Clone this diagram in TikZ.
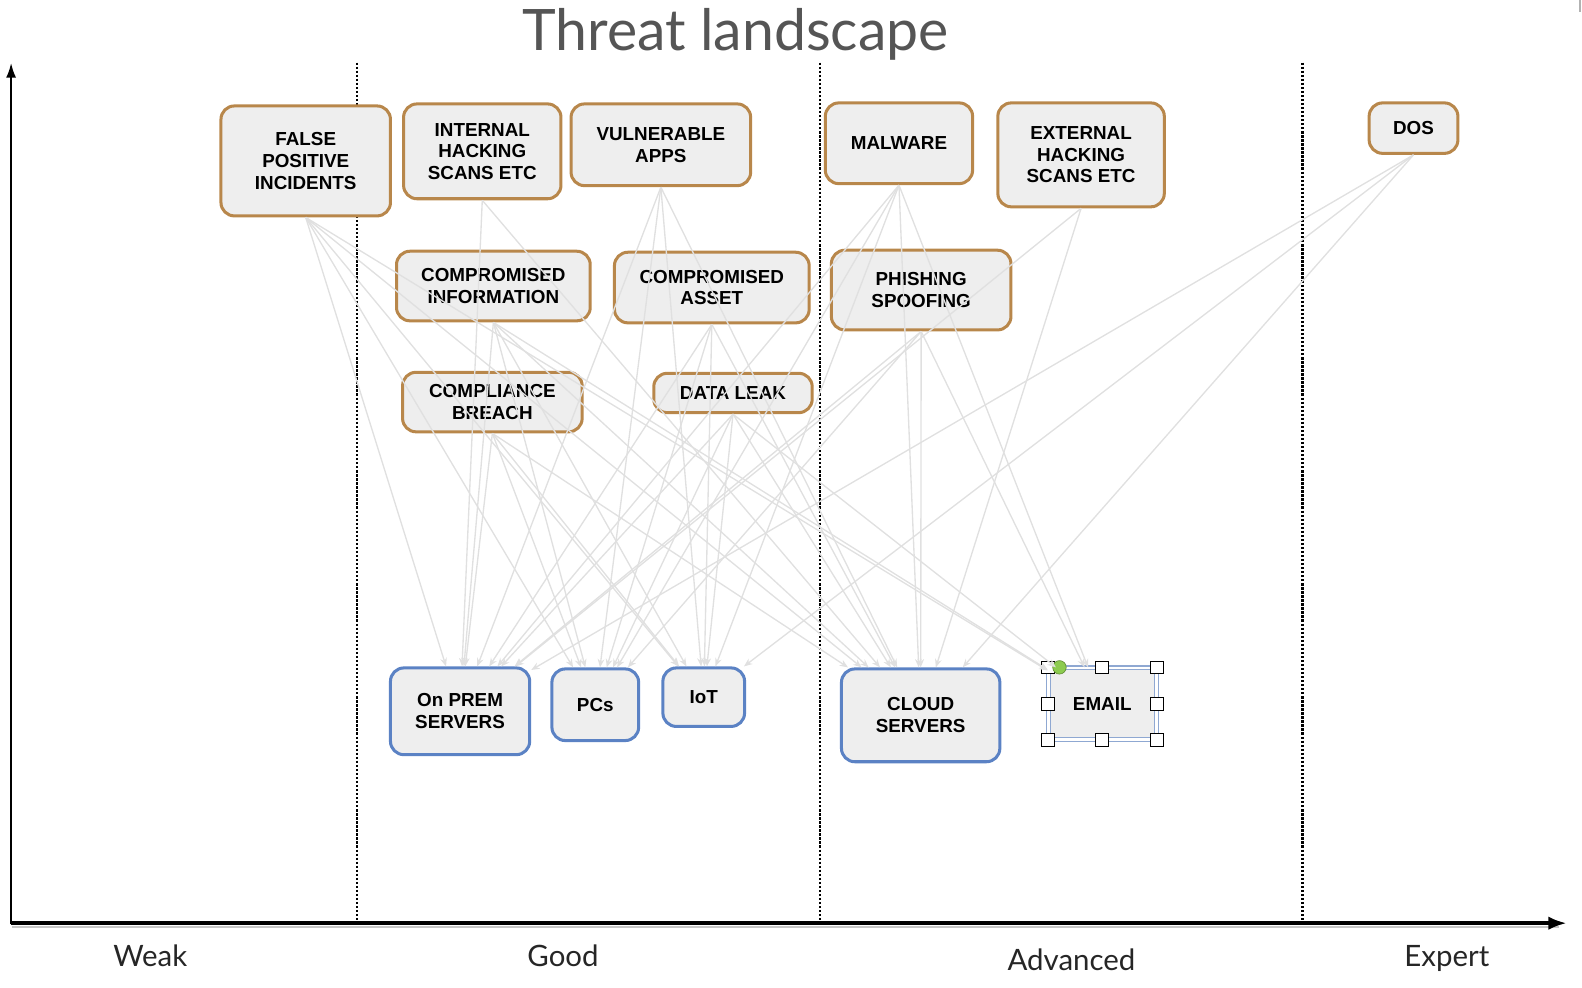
\documentclass[tikz,border=0pt]{standalone}
\usepackage{fontspec}
\setmainfont{Liberation Sans}
\newfontfamily\titlefont{Lato}
\usepackage{tikz}
\usetikzlibrary{arrows.meta, positioning}
\definecolor{threatFrame}{HTML}{B8874B}
\definecolor{assetFrame}{HTML}{5B82C4}
\definecolor{boxFill}{HTML}{EEEEEE}
\definecolor{linkGray}{HTML}{E0E0E0}
\definecolor{titleGray}{HTML}{555555}
\definecolor{selFrame}{HTML}{8FA8D2}
\definecolor{gripGreen}{HTML}{8CCB4F}

\tikzset{
  box/.style={rounded corners=8pt, fill=boxFill, line width=1.8pt, align=center,
    inner sep=0pt, font=\bfseries\fontsize{11.2}{12.9}\selectfont},
  threat/.style={box, draw=threatFrame},
  asset/.style={box, draw=assetFrame},
  sz/.style 2 args={minimum width=#1*0.6pt, minimum height=#2*0.6pt},
  link/.style={draw=linkGray, line width=0.8pt, -{Stealth[length=5pt, width=4pt]}},
  handle/.style={draw, fill=white, line width=0.6pt, minimum size=7.5pt, inner sep=0pt},
  axislabel/.style={font=\titlefont\fontsize{17.5}{20}\selectfont, text=black!85, anchor=base}
}

\begin{document}
\begin{tikzpicture}[x=0.6pt, y=-0.6pt]
    \useasboundingbox (0,0) rectangle (1568,979);

    % title and skill axis
    \node[anchor=base, text=titleGray, font=\titlefont\fontsize{34}{40}\selectfont] (title) at (729,50) {Threat landscape};
    \draw[gray!60, line width=1pt] (1566,0) -- (1566,12);

    \draw[gray!45, line width=1.2pt] (12,919) -- (1545,919);
    \draw[line width=2.2pt, -{Latex[length=11pt, width=8pt]}] (11,915) -- (1553,915);
    \draw[line width=1.5pt, -{Latex[length=9pt, width=6pt]}] (11,916) -- (11,62);

    \foreach \x in {354, 813, 1291}
        \draw[densely dotted, line width=1.4pt] (\x,62) -- (\x,913);

    \node[axislabel] (weak) at (149,958) {Weak};
    \node[axislabel] (good) at (558,958) {Good};
    \node[axislabel] (adv) at (1062,962) {Advanced};
    \node[axislabel] (expert) at (1434,958) {Expert};

    % threats
    \node[threat, sz={168}{109}] (fp) at (303,159.5) {FALSE\\POSITIVE\\INCIDENTS};
    \node[threat, sz={156}{94}] (ihs) at (478,150) {INTERNAL\\HACKING\\SCANS ETC};
    \node[threat, sz={178}{81}] (vapps) at (655,143.5) {VULNERABLE\\APPS};
    \node[threat, sz={192}{69}] (cinfo) at (489,283.5) {COMPROMISED\\INFORMATION};
    \node[threat, sz={193}{70}] (casset) at (705.5,285) {COMPROMISED\\ASSET};
    \node[threat, sz={178}{59}] (cbreach) at (488,398.5) {COMPLIANCE\\BREACH};
    \node[threat, sz={157}{39}] (dleak) at (726.5,389.5) {DATA LEAK};
    \node[threat, sz={146}{80}] (malw) at (891,142) {MALWARE};
    \node[threat, sz={165}{103}] (ehs) at (1071.5,153.5) {EXTERNAL\\HACKING\\SCANS ETC};
    \node[threat, sz={178}{79}] (phish) at (913,287.5) {PHISHING\\SPOOFING};
    \node[threat, sz={88}{50}] (dos) at (1401,127) {DOS};

    % assets
    \node[asset, sz={138}{86}] (onprem) at (456,705) {On PREM\\SERVERS};
    \node[asset, sz={86}{71}] (pcs) at (590,698.5) {PCs};
    \node[asset, sz={81}{58}] (iot) at (697.5,691) {IoT};
    \node[asset, sz={157}{92}] (cloud) at (912.5,709) {CLOUD\\SERVERS};
    \node[box, sz={107}{71}, rounded corners=0pt, draw=selFrame, line width=0.7pt,
        double=white, double distance=1.6pt] (email) at (1092.5,697.5) {EMAIL};

    \foreach \a/\n in {north west/nw, north/n, north east/ne, east/e,
                       south east/se, south/s, south west/sw, west/w}
        \node[handle] (h\n) at (email.\a) {};
    \node[circle, fill=gripGreen, draw=gripGreen!70!black, line width=0.4pt,
        minimum size=8pt, inner sep=0pt] (grip) at ([xshift=7pt]email.north west) {};

    % threat -> asset links
    \foreach \src/\dst in {fp/onprem, fp/pcs, fp/iot, fp/cloud, fp/email,
                           ihs/onprem, ihs/cloud,
                           vapps/onprem, vapps/pcs, vapps/iot, vapps/cloud,
                           malw/onprem, malw/pcs, malw/iot, malw/cloud, malw/email,
                           ehs/onprem, ehs/cloud,
                           dos/onprem, dos/iot, dos/cloud,
                           cinfo/onprem, cinfo/pcs, cinfo/iot, cinfo/cloud, cinfo/email,
                           casset/onprem, casset/pcs, casset/iot, casset/cloud,
                           phish/onprem, phish/pcs, phish/cloud, phish/email,
                           cbreach/onprem, cbreach/pcs, cbreach/iot, cbreach/cloud,
                           dleak/onprem, dleak/pcs, dleak/iot, dleak/cloud, dleak/email}
        \draw[link] (\src.south) -- (\dst);
\end{tikzpicture}
\end{document}
